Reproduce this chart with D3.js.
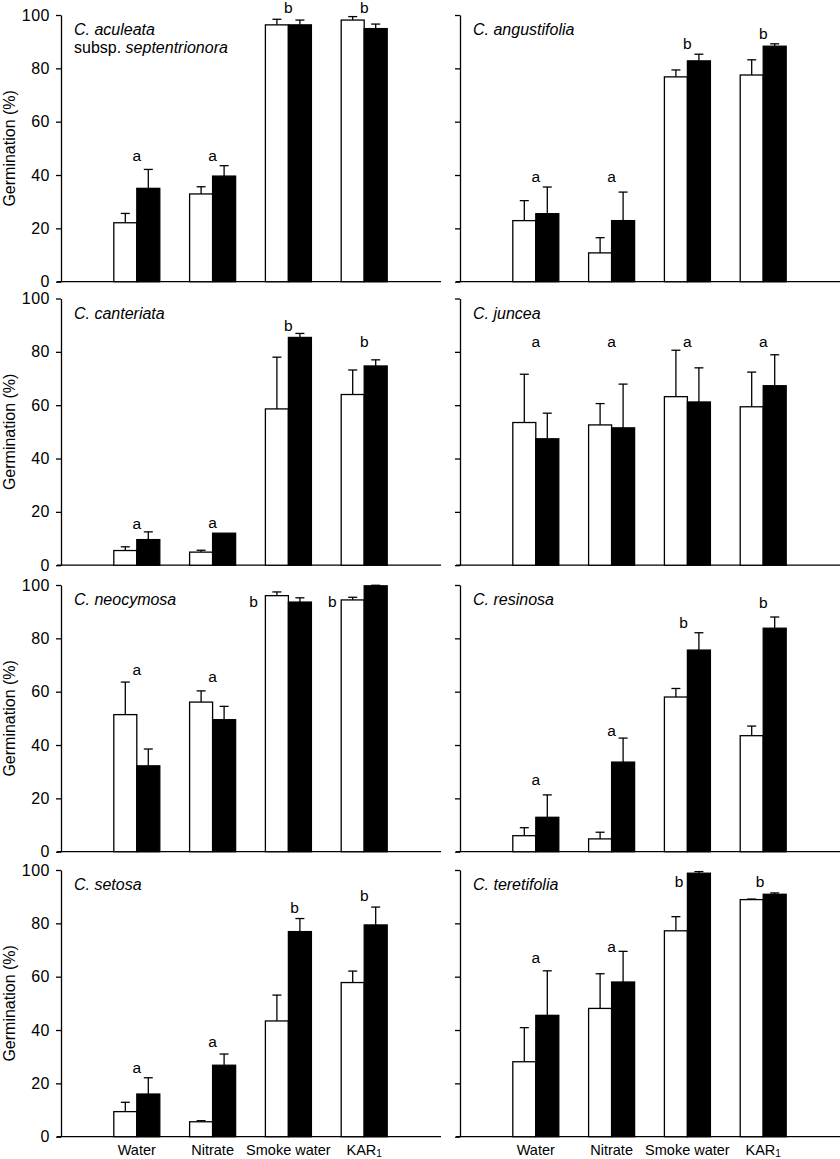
<!DOCTYPE html>
<html><head><meta charset="utf-8">
<script src="https://cdn.jsdelivr.net/npm/d3@7"></script>
<style>body{margin:0;background:#fff}svg{display:block}text{font-family:"Liberation Sans",Arial,Helvetica,sans-serif;fill:#000}</style>
</head><body>
<script>
// ---- data ----
const treatments = ["Water", "Nitrate", "Smoke water", "KAR1"];
const yTicks = [0, 20, 40, 60, 80, 100];
const species = ["C. aculeata", "C. angustifolia", "C. canteriata", "C. juncea",
                 "C. neocymosa", "C. resinosa", "C. setosa", "C. teretifolia"];
// open (white) bars: mean germination (%) and SE
const openMean = [
  [22.1, 32.9, 96.3, 98.1],
  [22.9, 10.8, 76.8, 77.5],
  [5.5, 4.9, 58.6, 64.0],
  [53.5, 52.6, 63.2, 59.4],
  [51.4, 56.1, 96.0, 94.4],
  [6.0, 4.8, 58.0, 43.5],
  [9.4, 5.6, 43.4, 57.8],
  [28.1, 48.1, 77.2, 88.9]
];
const openSE = [
  [3.5, 2.7, 2.1, 1.3],
  [7.5, 5.7, 2.6, 5.7],
  [1.4, 0.7, 19.4, 9.2],
  [18.1, 8.0, 17.4, 13.0],
  [12.2, 4.2, 1.4, 1.0],
  [3.0, 2.5, 3.2, 3.6],
  [3.5, 0.4, 9.7, 4.3],
  [12.8, 13.0, 5.3, 0.2]
];
// filled (black) bars
const filledMean = [
  [35.0, 39.6, 96.3, 94.9],
  [25.5, 22.9, 82.8, 88.3],
  [9.6, 12.0, 85.4, 74.7],
  [47.4, 51.5, 61.2, 67.3],
  [32.2, 49.5, 93.6, 99.7],
  [12.9, 33.6, 75.6, 83.8],
  [16.0, 26.8, 76.9, 79.4],
  [45.5, 58.0, 98.8, 90.9]
];
const filledSE = [
  [7.1, 3.9, 1.8, 1.7],
  [10.0, 10.7, 2.5, 0.9],
  [2.9, 0.0, 1.5, 2.3],
  [9.6, 16.4, 12.8, 11.6],
  [6.3, 5.0, 1.6, 0.2],
  [8.4, 9.0, 6.5, 4.2],
  [6.1, 4.2, 4.9, 6.7],
  [16.7, 11.5, 0.6, 0.5]
];
// significance letters and the value (%) at which each letter sits
const letters = [
  ["a","a","b","b"], ["a","a","b","b"], ["a","a","b","b"], ["a","a","a","a"],
  ["a","a","b","b"], ["a","a","b","b"], ["a","a","b","b"], ["a","a","b","b"]
];
const letterLevel = [
  [45.3, 45.3, 100.6, 100.6],
  [37.5, 37.5, 87.3, 90.9],
  [13.6, 14.0, 87.9, 81.7],
  [81.7, 81.7, 81.7, 81.7],
  [66.2, 63.6, 91.7, 91.7],
  [25.1, 43.3, 83.7, 91.2],
  [23.8, 33.5, 83.8, 88.5],
  [65.0, 69.4, 93.8, 93.5]
];
// letter horizontal shift in treatment units
const letterShift = [
  [0,0,0,0],[0,0,0,0],[0,0,0,0],[0,0,0,0],
  [0,0,-0.46,-0.42],[0,0,-0.05,0],[0,0,0.08,0],[0,0,-0.11,-0.04]
];

// ---- layout ----
const W = 840, H = 1159;
const colX = [61, 460];
const rowTop = [15, 298.5, 585, 870];
const plotH = 266.7, plotW = 379;
const barW = 23;

const svg = d3.select("body").append("svg").attr("width", W).attr("height", H);

const x = d3.scaleLinear().domain([0, treatments.length + 1]).range([0, plotW]);
const y = d3.scaleLinear().domain([0, 100]).range([plotH, 0]);

species.forEach((sp, p) => {
  const col = p % 2, row = Math.floor(p / 2);
  const g = svg.append("g").attr("transform", `translate(${colX[col]},${rowTop[row]})`);

  // y axis
  const ya = d3.axisLeft(y).tickValues(yTicks).tickSize(5).tickSizeOuter(0).tickPadding(6);
  if (col === 1) ya.tickFormat("");
  const yg = g.append("g").call(ya);
  yg.select(".domain").attr("stroke", "#000").attr("stroke-width", 1.3);
  yg.selectAll(".tick line").attr("stroke", "#000").attr("stroke-width", 1.3);
  yg.selectAll(".tick text").style("font-size", "16px").style("letter-spacing", "0.5px").attr("fill", "#000");

  // x axis line
  g.append("line").attr("x1", -4).attr("x2", x(treatments.length + 1) + 1)
    .attr("y1", y(0)).attr("y2", y(0)).attr("stroke", "#000").attr("stroke-width", 1.3);

  // bars
  treatments.forEach((t, i) => {
    const cx = x(i + 1);
    const series = [
      {m: openMean[p][i], se: openSE[p][i], fill: "#fff", x0: cx - barW},
      {m: filledMean[p][i], se: filledSE[p][i], fill: "#000", x0: cx}
    ];
    series.forEach(s => {
      // error bar (upper)
      if (s.se > 0) {
        const bx = s.x0 + barW / 2;
        g.append("line").attr("x1", bx).attr("x2", bx)
          .attr("y1", y(s.m)).attr("y2", y(s.m + s.se))
          .attr("stroke", "#000").attr("stroke-width", 1.3);
        g.append("line").attr("x1", bx - 4.5).attr("x2", bx + 4.5)
          .attr("y1", y(s.m + s.se)).attr("y2", y(s.m + s.se))
          .attr("stroke", "#000").attr("stroke-width", 1.3);
      }
      g.append("rect").attr("x", s.x0).attr("width", barW)
        .attr("y", y(s.m)).attr("height", y(0) - y(s.m))
        .attr("fill", s.fill).attr("stroke", "#000").attr("stroke-width", 1.3);
    });
    // letter
    g.append("text").attr("x", x(i + 1 + letterShift[p][i])).attr("y", y(letterLevel[p][i]))
      .attr("text-anchor", "middle").style("font-size", "15.5px").text(letters[p][i]);
  });

  // title
  const ttl = g.append("text").attr("x", 13).attr("y", y(100) + 20).style("font-size", "16px");
  ttl.append("tspan").style("font-style", "italic").text(sp);
  if (p === 0) {
    const t2 = g.append("text").attr("x", 13).attr("y", y(100) + 38).style("font-size", "16px");
    t2.append("tspan").text("subsp. ");
    t2.append("tspan").style("font-style", "italic").text("septentrionora");
  }

  // y label
  if (col === 0) {
    g.append("text").attr("transform", `translate(${-46},${plotH / 2}) rotate(-90)`)
      .attr("text-anchor", "middle").style("font-size", "16px").text("Germination (%)");
  }

  // category labels on bottom row
  if (row === 3) {
    treatments.forEach((t, i) => {
      const tx = g.append("text").attr("x", x(i + 1)).attr("y", y(0) + 18)
        .attr("text-anchor", "middle").style("font-size", "14.5px");
      if (t === "KAR1") {
        tx.append("tspan").text("KAR");
        tx.append("tspan").attr("dy", 2).style("font-size", "10px").text("1");
      } else tx.text(t);
    });
  }
});
</script>
</body></html>
